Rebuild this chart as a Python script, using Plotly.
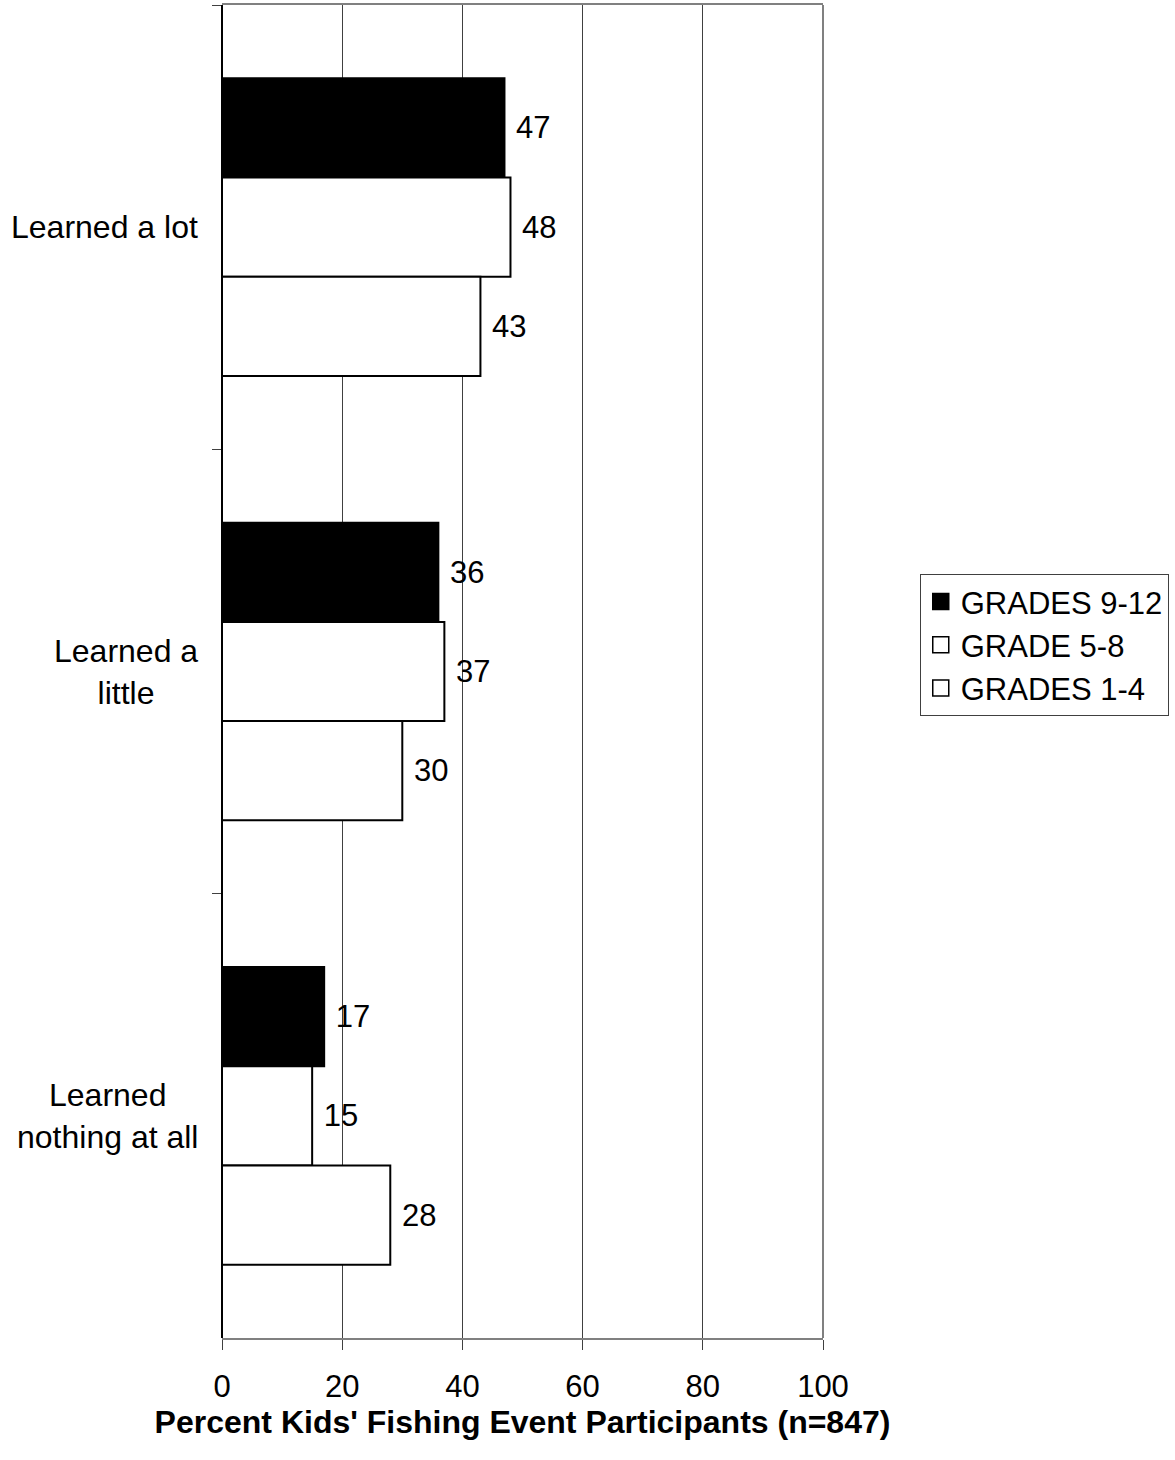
import plotly.graph_objects as go

# Survey responses and percentages per grade group
categories = ["Learned a lot", "Learned a little", "Learned nothing at all"]
category_labels = ["Learned a lot", "Learned a<br>little", "Learned<br>nothing at all"]
grades_9_12 = [47, 36, 17]
grades_5_8 = [48, 37, 15]
grades_1_4 = [43, 30, 28]
x_ticks = [0, 20, 40, 60, 80, 100]

FONT = "Liberation Sans, Arial, sans-serif"
fs_num = 31
fs_lab = 32

fig = go.Figure()

# With a reversed category axis the first trace sits at the top of each group
series = [
    ("GRADES 9-12", grades_9_12, "black"),
    ("GRADE 5-8", grades_5_8, "white"),
    ("GRADES 1-4", grades_1_4, "white"),
]
for name, vals, color in series:
    fig.add_trace(go.Bar(
        y=categories, x=vals, name=name, orientation="h",
        marker=dict(color=color, line=dict(color="black", width=2)),
        text=vals, texttemplate=" %{x}", textposition="outside",
        textfont=dict(family=FONT, size=fs_num, color="black"),
        cliponaxis=False, showlegend=False,
    ))

# Legend entries with large square swatches
for name, vals, color in series:
    fig.add_trace(go.Scatter(
        x=[None], y=[None], mode="markers", name=name,
        marker=dict(symbol="square", size=21, color=color,
                    line=dict(color="black", width=1.5)),
        showlegend=True,
    ))

# Category labels, centred line by line
for cat, lab in zip(categories, category_labels):
    fig.add_annotation(
        x=-0.037, xref="paper", y=cat, yref="y", text=lab,
        xanchor="right", yanchor="middle", align="center", showarrow=False,
        font=dict(family=FONT, size=fs_lab, color="black"),
    )

# Right frame edge
fig.add_shape(type="line", xref="paper", yref="paper", x0=1, x1=1, y0=0, y1=1,
              line=dict(color="#808080", width=2))

fig.update_layout(
    width=1175, height=1460,
    margin=dict(l=222, r=352, t=5, b=122, autoexpand=False),
    paper_bgcolor="white", plot_bgcolor="white",
    barmode="group", bargap=0.33, bargroupgap=0,
    font=dict(family=FONT, size=fs_num, color="black"),
    showlegend=True,
    legend=dict(
        x=1.161, xanchor="left", y=0.52, yanchor="middle",
        traceorder="normal", bordercolor="#404040", borderwidth=1,
        font=dict(family=FONT, size=31, color="black"),
        tracegroupgap=0, itemwidth=30,
    ),
    xaxis=dict(
        range=[0, 100], tickvals=x_ticks, ticks="outside", ticklen=10,
        tickcolor="#404040", tickwidth=1, ticklabelstandoff=10,
        showgrid=True, gridcolor="#404040", gridwidth=1,
        showline=True, linecolor="#808080", linewidth=2, mirror=True,
        zeroline=True, zerolinecolor="black", zerolinewidth=2,
        tickfont=dict(family=FONT, size=fs_num, color="black"),
        title=dict(text="<b>Percent Kids' Fishing Event Participants (n=847)</b>",
                   font=dict(family=FONT, size=32, color="black"), standoff=2),
    ),
    yaxis=dict(
        categoryorder="array", categoryarray=categories, autorange="reversed",
        tickson="boundaries", ticks="outside", ticklen=9, tickcolor="#404040",
        showticklabels=False, showgrid=False, zeroline=False,
        showline=False,
    ),
)

fig.write_html("out.html")
